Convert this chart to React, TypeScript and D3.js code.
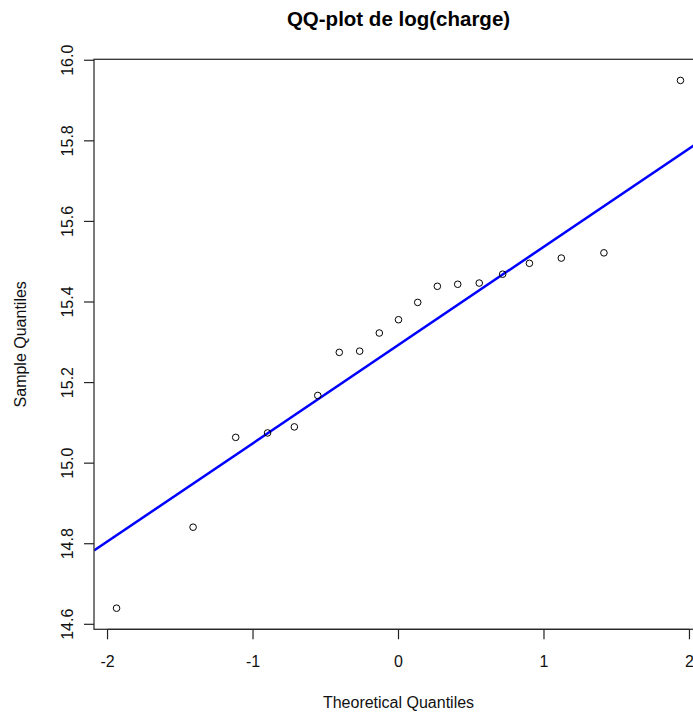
import React, { useEffect, useRef } from "react";
import * as d3 from "d3";

// theoretical normal quantiles (n = 19) and observed log(charge), sorted
const theoretical = [
  -1.938, -1.412, -1.119, -0.9, -0.716, -0.555, -0.407, -0.267, -0.132, 0,
  0.132, 0.267, 0.407, 0.555, 0.716, 0.9, 1.119, 1.412, 1.938,
];
const sample = [
  14.64, 14.841, 15.064, 15.075, 15.09, 15.168, 15.275, 15.278, 15.323, 15.356,
  15.399, 15.439, 15.444, 15.447, 15.469, 15.496, 15.509, 15.522, 15.95,
];
const xTicks = [-2, -1, 0, 1, 2];
const yTicks = [14.6, 14.8, 15.0, 15.2, 15.4, 15.6, 15.8, 16.0];

const W = 693;
const H = 713;
const FONT = "Liberation Sans, Arial, sans-serif";

const App: React.FC = () => {
  const svgRef = useRef<SVGSVGElement | null>(null);

  useEffect(() => {
    if (!svgRef.current) return;
    const svg = d3.select(svgRef.current);
    svg.selectAll("*").remove();

    // plot region (right edge is past the picture, as in the reference)
    const left = 94,
      right = 703,
      top = 59.3,
      bottom = 629.3;

    // R style 4% range extension
    const ext = (lo: number, hi: number) => {
      const d = (hi - lo) * 0.04;
      return [lo - d, hi + d];
    };
    const x = d3
      .scaleLinear()
      .domain(ext(d3.min(theoretical)!, d3.max(theoretical)!))
      .range([left, right]);
    const y = d3
      .scaleLinear()
      .domain(ext(d3.min(sample)!, d3.max(sample)!))
      .range([bottom, top]);

    svg
      .append("defs")
      .append("clipPath")
      .attr("id", "plotclip")
      .append("rect")
      .attr("x", left)
      .attr("y", top)
      .attr("width", right - left)
      .attr("height", bottom - top);

    // qqline through the quartiles
    const q1 = d3.quantile(sample, 0.25)!;
    const q3 = d3.quantile(sample, 0.75)!;
    const z = 0.6744898;
    const slope = (q3 - q1) / (2 * z);
    const intercept = q1 + z * slope;
    const [x0, x1] = x.domain();
    svg
      .append("line")
      .attr("clip-path", "url(#plotclip)")
      .attr("x1", x(x0))
      .attr("y1", y(intercept + slope * x0))
      .attr("x2", x(x1))
      .attr("y2", y(intercept + slope * x1))
      .attr("stroke", "#0000ff")
      .attr("stroke-width", 2.5);

    // points
    svg
      .append("g")
      .selectAll("circle")
      .data(theoretical)
      .join("circle")
      .attr("cx", (d) => x(d))
      .attr("cy", (d, i) => y(sample[i]))
      .attr("r", 3.3)
      .attr("fill", "none")
      .attr("stroke", "#000")
      .attr("stroke-width", 1);

    // box
    svg
      .append("rect")
      .attr("x", left)
      .attr("y", top)
      .attr("width", right - left)
      .attr("height", bottom - top)
      .attr("fill", "none")
      .attr("stroke", "#333")
      .attr("stroke-width", 1.3);

    // x axis
    const gx = svg.append("g").attr("stroke", "#222");
    gx.append("line")
      .attr("x1", x(xTicks[0]))
      .attr("x2", x(xTicks[xTicks.length - 1]))
      .attr("y1", bottom)
      .attr("y2", bottom);
    gx.selectAll("line.tick")
      .data(xTicks)
      .join("line")
      .attr("class", "tick")
      .attr("x1", (d) => x(d))
      .attr("x2", (d) => x(d))
      .attr("y1", bottom)
      .attr("y2", bottom + 10)
      .attr("stroke-width", 1.2);
    svg
      .append("g")
      .selectAll("text")
      .data(xTicks)
      .join("text")
      .attr("x", (d) => x(d))
      .attr("y", 667)
      .attr("text-anchor", "middle")
      .attr("font-family", FONT)
      .attr("font-size", 16)
      .attr("fill", "#111")
      .text((d) => d3.format("d")(d).replace("−", "-"));

    // y axis
    const gy = svg.append("g").attr("stroke", "#222");
    gy.selectAll("line")
      .data(yTicks)
      .join("line")
      .attr("x1", left - 10)
      .attr("x2", left)
      .attr("y1", (d) => y(d))
      .attr("y2", (d) => y(d))
      .attr("stroke-width", 1.2);
    svg
      .append("g")
      .selectAll("text")
      .data(yTicks)
      .join("text")
      .attr("transform", (d) => `translate(73,${y(d)}) rotate(-90)`)
      .attr("text-anchor", "middle")
      .attr("font-family", FONT)
      .attr("font-size", 16)
      .attr("fill", "#111")
      .text((d) => d3.format(".1f")(d));

    const cx = (left + right) / 2;
    const cy = (top + bottom) / 2;

    // title and axis titles
    svg
      .append("text")
      .attr("x", cx)
      .attr("y", 26)
      .attr("text-anchor", "middle")
      .attr("font-family", FONT)
      .attr("font-size", 20.5)
      .attr("font-weight", "bold")
      .attr("fill", "#000")
      .text("QQ-plot de log(charge)");
    svg
      .append("text")
      .attr("x", cx)
      .attr("y", 708)
      .attr("text-anchor", "middle")
      .attr("font-family", FONT)
      .attr("font-size", 16)
      .attr("fill", "#111")
      .text("Theoretical Quantiles");
    svg
      .append("text")
      .attr("transform", `translate(26,${cy}) rotate(-90)`)
      .attr("text-anchor", "middle")
      .attr("font-family", FONT)
      .attr("font-size", 16)
      .attr("fill", "#111")
      .text("Sample Quantiles");
  }, []);

  return (
    <svg
      ref={svgRef}
      width={W}
      height={H}
      style={{ position: "absolute", left: 0, top: 0, background: "#fff" }}
    />
  );
};

export default App;
